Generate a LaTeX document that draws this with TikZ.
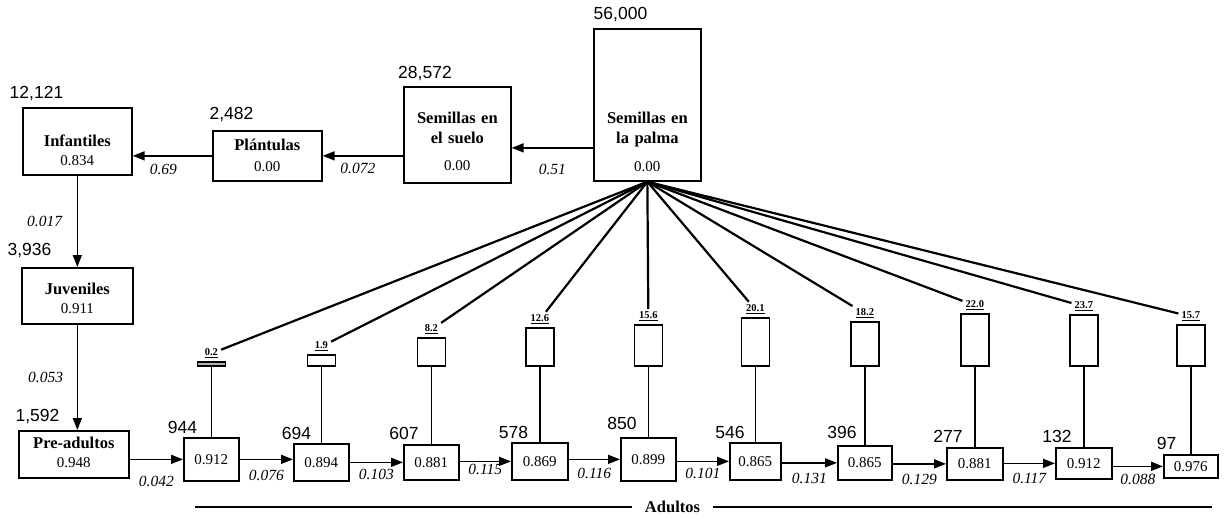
\documentclass[tikz,border=0pt]{standalone}
\usepackage{fontspec}
\setmainfont{Liberation Serif}
\newfontfamily\countfont{Liberation Sans}
\usetikzlibrary{positioning,arrows.meta}
\newcommand{\stval}[1]{{\mdseries\fontsize{15}{18}\selectfont #1}}

\begin{document}
\begin{tikzpicture}[
  x=1pt, y=-1pt,
  stage/.style={draw, line width=1.7pt, inner sep=0pt, anchor=north west, align=center,
                font=\fontsize{16.5}{20}\selectfont\bfseries},
  adult/.style={draw, line width=1.7pt, inner sep=0pt, anchor=north west,
                font=\fontsize{15}{18}\selectfont},
  fec/.style={draw, line width=1.7pt, inner sep=0pt, minimum width=28pt, anchor=south},
  flab/.style={font=\fontsize{10.5}{12}\selectfont\bfseries, inner sep=3pt},
  pop/.style={font=\countfont\fontsize{17.5}{20}\selectfont},
  rate/.style={font=\fontsize{15.5}{18}\selectfont\itshape, inner sep=1pt},
  arr/.style={-{Triangle[length=12pt, width=9pt]}, line width=1.6pt},
  link/.style={line width=1.6pt},
  fan/.style={line width=2.2pt}
]
\useasboundingbox (0,0) rectangle (1228,517);

% life stages
\node[stage, text width=109pt, text height=39pt, text depth=28pt] (inf) at (22,107) {Infantiles\\[-1.5pt]\stval{0.834}};
\node[stage, text width=109pt, text height=19.5pt, text depth=30.5pt] (plant) at (212,130) {Plántulas\\[1pt]\stval{0.00}};
\node[stage, text width=107pt, text height=37pt, text depth=59pt] (suelo) at (403,86) {Semillas en\\el suelo\\[7pt]\stval{0.00}};
\node[stage, text width=107pt, text height=95pt, text depth=57pt] (palma) at (593,28) {Semillas en\\la palma\\[8pt]\stval{0.00}};
\node[stage, text width=111pt, text height=27pt, text depth=29pt] (juv) at (21,267) {Juveniles\\[-1pt]\stval{0.911}};
\node[stage, text width=110pt, text height=18pt, text depth=29pt] (pre) at (18,430) {Pre-adultos\\[-1pt]\stval{0.948}};

% adult classes
\node[adult, minimum width=55pt, minimum height=43pt] (ad1) at (183,437) {0.912};
\node[adult, minimum width=55pt, minimum height=37pt] (ad2) at (293,443) {0.894};
\node[adult, minimum width=55pt, minimum height=35pt] (ad3) at (403,444) {0.881};
\node[adult, minimum width=56pt, minimum height=37pt] (ad4) at (511,442) {0.869};
\node[adult, minimum width=55pt, minimum height=43pt] (ad5) at (620,437) {0.899};
\node[adult, minimum width=51pt, minimum height=37pt] (ad6) at (729,442) {0.865};
\node[adult, minimum width=54pt, minimum height=34pt] (ad7) at (837,445) {0.865};
\node[adult, minimum width=56pt, minimum height=32pt] (ad8) at (946,447) {0.881};
\node[adult, minimum width=56pt, minimum height=31pt] (ad9) at (1055,447) {0.912};
\node[adult, minimum width=54pt, minimum height=23pt] (ad10) at (1163,454) {0.976};

% population counts
\node[pop] (ninf) at (36.5,94) {12,121};
\node[pop] (nplant) at (231.5,115) {2,482};
\node[pop] (nsuelo) at (425,74) {28,572};
\node[pop] (npalma) at (620.5,15) {56,000};
\node[pop] (njuv) at (29.5,251) {3,936};
\node[pop] (npre) at (37.5,417) {1,592};
\node[pop] (nad1) at (182.5,427) {944};
\node[pop] (nad2) at (296.5,433) {694};
\node[pop] (nad3) at (404,433) {607};
\node[pop] (nad4) at (513.5,432) {578};
\node[pop] (nad5) at (622,423) {850};
\node[pop] (nad6) at (730,432) {546};
\node[pop] (nad7) at (842,432) {396};
\node[pop] (nad8) at (948,436) {277};
\node[pop] (nad9) at (1057,436) {132};
\node[pop] (nad10) at (1166.5,443) {97};

% fecundity bars
\coordinate (fbase) at (0,367);
\node[fec, minimum height=4pt, fill=gray!60] (f1) at (ad1.north |- fbase) {};
\node[fec, minimum height=11pt] (f2) at (ad2.north |- fbase) {};
\node[fec, minimum height=28pt] (f3) at (ad3.north |- fbase) {};
\node[fec, minimum height=38pt] (f4) at (ad4.north |- fbase) {};
\node[fec, minimum height=41pt] (f5) at (ad5.north |- fbase) {};
\node[fec, minimum height=48pt] (f6) at (ad6.north |- fbase) {};
\node[fec, minimum height=44pt] (f7) at (ad7.north |- fbase) {};
\node[fec, minimum height=52pt] (f8) at (ad8.north |- fbase) {};
\node[fec, minimum height=51pt] (f9) at (ad9.north |- fbase) {};
\node[fec, minimum height=41pt] (f10) at (ad10.north |- fbase) {};
\node[flab, above=0pt of f1] (l1) {\underline{0.2}};
\node[flab, above=0pt of f2] (l2) {\underline{1.9}};
\node[flab, above=0pt of f3] (l3) {\underline{8.2}};
\node[flab, above=0pt of f4] (l4) {\underline{12.6}};
\node[flab, above=0pt of f5] (l5) {\underline{15.6}};
\node[flab, above=0pt of f6] (l6) {\underline{20.1}};
\node[flab, above=0pt of f7] (l7) {\underline{18.2}};
\node[flab, above=0pt of f8] (l8) {\underline{22.0}};
\node[flab, above=0pt of f9] (l9) {\underline{23.7}};
\node[flab, above=0pt of f10] (l10) {\underline{15.7}};

\draw[fan] (palma.south) -- (l1);
\draw[fan] (palma.south) -- (l2);
\draw[fan] (palma.south) -- (l3);
\draw[fan] (palma.south) -- (l4);
\draw[fan] (palma.south) -- (l5);
\draw[fan] (palma.south) -- (l6);
\draw[fan] (palma.south) -- (l7);
\draw[fan] (palma.south) -- (l8);
\draw[fan] (palma.south) -- (l9);
\draw[fan] (palma.south) -- (l10);
\draw[link] (f1) -- (ad1);
\draw[link] (f2) -- (ad2);
\draw[link] (f3) -- (ad3);
\draw[link] (f4) -- (ad4);
\draw[link] (f5) -- (ad5);
\draw[link] (f6) -- (ad6);
\draw[link] (f7) -- (ad7);
\draw[link] (f8) -- (ad8);
\draw[link] (f9) -- (ad9);
\draw[link] (f10) -- (ad10);

% transitions
\draw[arr] ([yshift=-13pt]suelo.east -| palma.west) -- ([yshift=-13pt]suelo.east) node[rate, midway, below=15pt] {0.51};
\draw[arr] (suelo.west |- plant) -- (plant) node[rate, midway, below=6pt, xshift=-5pt] {0.072};
\draw[arr] (plant) -- (plant -| inf.east) node[rate, midway, below=7pt, xshift=-9pt] {0.69};
\draw[arr] (inf) -- (juv) node[rate, midway, left=13.5pt] {0.017};
\draw[arr] (juv) -- (juv |- pre.north) node[rate, midway, left=12.5pt] {0.053};
\draw[arr] (pre.east |- ad1) -- (ad1) node[rate, midway, below=15pt] {0.042};
\draw[arr] (ad1) -- (ad1 -| ad2.west) node[rate, midway, below=9pt] {0.076};
\draw[arr] (ad2) -- (ad2 -| ad3.west) node[rate, midway, below=5pt] {0.103};
\draw[arr] (ad3.east |- ad4) -- (ad4) node[rate, midway, below=1pt] {0.115};
\draw[arr] (ad4.east |- ad5) -- (ad5) node[rate, midway, below=7pt] {0.116};
\draw[arr] (ad5.east |- ad6) -- (ad6) node[rate, midway, below=5pt] {0.101};
\draw[arr] (ad6.east |- ad7) -- (ad7) node[rate, midway, below=9pt] {0.131};
\draw[arr] (ad7.east |- ad8) -- (ad8) node[rate, midway, below=9pt] {0.129};
\draw[arr] (ad8.east |- ad9) -- (ad9) node[rate, midway, below=8pt] {0.117};
\draw[arr] (ad9.east |- ad10) -- (ad10) node[rate, midway, below=6pt] {0.088};

% adult bracket
\coordinate (adl) at (195,507);
\coordinate (adr) at (1212,507);
\node[font=\fontsize{16.5}{20}\selectfont\bfseries, inner xsep=13pt] (adtxt) at (672.5,507) {Adultos};
\draw[link] (adl) -- (adtxt);
\draw[link] (adtxt) -- (adr);
\end{tikzpicture}
\end{document}
